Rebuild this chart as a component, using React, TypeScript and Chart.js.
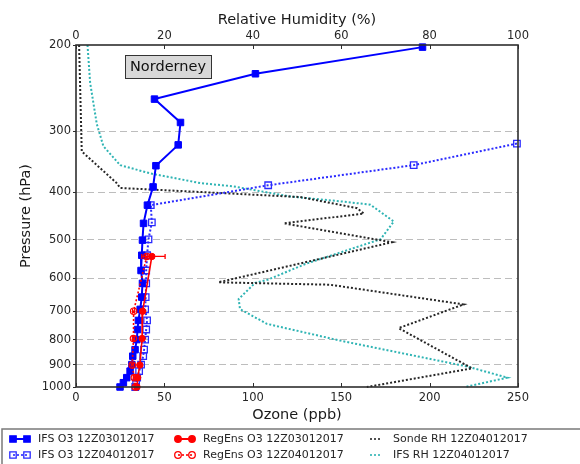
import React, { useEffect, useRef } from "react";
import { Chart, registerables } from "chart.js";

Chart.register(...registerables);

const FONT = "'DejaVu Sans', Verdana, sans-serif";

// Axis ticks
const pressureTicks = [200, 300, 400, 500, 600, 700, 800, 900, 1000];
const ozoneTickStep = 50;
const rhTickStep = 20;

// IFS O3 12Z03012017 (ppb vs hPa)
const ifs03Pressure = [202, 229, 258, 288, 320, 353, 390, 425, 463, 501, 538, 578, 614, 655, 694, 731, 763, 800, 839, 865, 900, 928, 957, 980, 1000];
const ifs03Ozone = [196, 101.5, 44.4, 59.1, 57.8, 45.2, 43.6, 40.4, 38.2, 37.6, 37.2, 36.8, 37.6, 37.2, 36.3, 35.3, 34.8, 34.4, 33.4, 32.1, 31.6, 30.6, 28.7, 26.8, 24.9];

// IFS O3 12Z04012017
const ifs04Pressure = [318, 352, 387, 425, 461, 499, 538, 578, 614, 655, 694, 731, 763, 800, 839, 865, 900, 928, 957, 980, 1000];
const ifs04Ozone = [249.4, 191, 108.7, 42.3, 42.9, 41, 40.2, 39.7, 39.7, 39.4, 39.1, 40.2, 39.7, 39.1, 38.5, 38, 36.8, 35.7, 34.6, 34, 33.5];

// RegEns O3 12Z03012017 with range
const reg03Pressure = [541, 700, 796, 902, 957, 1000];
const reg03Ozone = [42.9, 37.7, 37.4, 36.1, 34.9, 34.5];
const reg03Low = [37.2, 36.9, 36.6, 35.3, 34.1, 33.7];
const reg03High = [50.4, 38.5, 38.2, 36.9, 35.7, 35.3];

// RegEns O3 12Z04012017 with range
const reg04Pressure = [541, 700, 796, 902, 957, 1000];
const reg04Ozone = [40, 32.6, 32.5, 31.8, 33, 33.5];
const reg04Low = [39.4, 32, 31.9, 31.2, 32.4, 32.9];
const reg04High = [40.6, 33.2, 33.1, 32.4, 33.6, 34.1];

// Sonde RH 12Z04012017 (% vs hPa)
const sondePressure = [200, 330, 383, 392, 409, 431, 442, 463, 506, 611, 618, 678, 758, 916, 1000];
const sondeRH = [0.7, 1.3, 9.2, 10, 50.7, 63.6, 65.1, 47, 71.5, 32.2, 57.5, 87.7, 73, 89.6, 65.8];

// IFS RH 12Z04012017
const ifsRhPressure = [200, 239, 290, 322, 352, 366, 383, 389, 408, 418, 424, 459, 499, 560, 603, 613, 661, 693, 743, 804, 908, 957, 1000];
const ifsRH = [2.6, 3.2, 4.7, 6.2, 10, 16.8, 28.1, 35.6, 48.5, 60.5, 66.6, 71.9, 68.9, 52, 43.5, 40.5, 36.8, 37.1, 43.2, 59.8, 88.5, 97.6, 88];

const stationName = "Norderney";

const toPoints = (xs: number[], ps: number[]) => xs.map((v, i) => ({ x: v, y: ps[i] }));

const BLUE = "#0000ff";
const BLUE_DOT = "#2a2aff";
const RED = "#ff0000";
const SONDE = "#262626";
const TEAL = "#2fb4b4";
const TEXT = "#262626";
const AXIS = "#2e2e2e";

type LegendItem = { label: string; color: string; dash: number[]; marker: string; filled: boolean };

const legendItems: LegendItem[][] = [
  [
    { label: "IFS O3 12Z03012017", color: BLUE, dash: [], marker: "rect", filled: true },
    { label: "IFS O3 12Z04012017", color: BLUE_DOT, dash: [2, 2], marker: "rect", filled: false },
  ],
  [
    { label: "RegEns O3 12Z03012017", color: RED, dash: [], marker: "circle", filled: true },
    { label: "RegEns O3 12Z04012017", color: RED, dash: [2, 2], marker: "circle", filled: false },
  ],
  [
    { label: "Sonde RH 12Z04012017", color: SONDE, dash: [2, 2], marker: "none", filled: false },
    { label: "IFS RH 12Z04012017", color: TEAL, dash: [2, 2], marker: "none", filled: false },
  ],
];

function drawMarker(ctx: CanvasRenderingContext2D, kind: string, x: number, y: number, color: string, filled: boolean) {
  ctx.save();
  ctx.setLineDash([]);
  ctx.lineWidth = 1.3;
  ctx.strokeStyle = color;
  ctx.fillStyle = color;
  if (kind === "rect") {
    const s = 3.2;
    ctx.beginPath();
    ctx.rect(x - s, y - s, 2 * s, 2 * s);
    if (filled) ctx.fill();
    ctx.stroke();
  } else if (kind === "circle") {
    ctx.beginPath();
    ctx.arc(x, y, 3.3, 0, Math.PI * 2);
    if (filled) ctx.fill();
    ctx.stroke();
  }
  ctx.restore();
}

const decorPlugin = {
  id: "decor",
  afterDatasetsDraw(chart: any) {
    const ctx: CanvasRenderingContext2D = chart.ctx;
    const xs = chart.scales.x;
    const ys = chart.scales.y;
    ctx.save();
    const bars = [
      { p: reg03Pressure, lo: reg03Low, hi: reg03High },
      { p: reg04Pressure, lo: reg04Low, hi: reg04High },
    ];
    ctx.strokeStyle = RED;
    ctx.lineWidth = 1.3;
    bars.forEach((b) => {
      b.p.forEach((p, i) => {
        const y = ys.getPixelForValue(p);
        const x1 = xs.getPixelForValue(b.lo[i]);
        const x2 = xs.getPixelForValue(b.hi[i]);
        ctx.beginPath();
        ctx.moveTo(x1, y);
        ctx.lineTo(x2, y);
        ctx.moveTo(x1, y - 2.5);
        ctx.lineTo(x1, y + 2.5);
        ctx.moveTo(x2, y - 2.5);
        ctx.lineTo(x2, y + 2.5);
        ctx.stroke();
      });
    });
    ctx.restore();
  },
  afterDraw(chart: any) {
    const ctx: CanvasRenderingContext2D = chart.ctx;
    const { left, right, top, bottom } = chart.chartArea;
    ctx.save();
    ctx.setLineDash([]);
    // inward ticks for the two horizontal axes
    ctx.strokeStyle = AXIS;
    ctx.lineWidth = 1;
    const xs = chart.scales.x;
    xs.ticks.forEach((t: any) => {
      const px = Math.round(xs.getPixelForValue(t.value)) + 0.5;
      ctx.beginPath();
      ctx.moveTo(px, bottom);
      ctx.lineTo(px, bottom - 4);
      ctx.stroke();
    });
    const x2 = chart.scales.x2;
    x2.ticks.forEach((t: any) => {
      const px = Math.round(x2.getPixelForValue(t.value)) + 0.5;
      ctx.beginPath();
      ctx.moveTo(px, top);
      ctx.lineTo(px, top + 4);
      ctx.stroke();
    });
    // frame
    ctx.lineWidth = 1.6;
    ctx.strokeStyle = AXIS;
    ctx.strokeRect(left, top, right - left, bottom - top);

    // station label box
    ctx.font = `14.5px ${FONT}`;
    const tw = ctx.measureText(stationName).width;
    const cx = left + 92;
    const cy = top + 21.5;
    const bw = tw + 10;
    const bh = 23;
    ctx.fillStyle = "#d8d8d8";
    ctx.fillRect(cx - bw / 2, cy - bh / 2, bw, bh);
    ctx.lineWidth = 1;
    ctx.strokeStyle = "#333";
    ctx.strokeRect(Math.round(cx - bw / 2) + 0.5, Math.round(cy - bh / 2) + 0.5, Math.round(bw), bh);
    ctx.fillStyle = "#111";
    ctx.textAlign = "center";
    ctx.textBaseline = "middle";
    ctx.fillText(stationName, cx, cy + 1);

    // legend
    const legTop = 429;
    ctx.lineWidth = 1.5;
    ctx.strokeStyle = "#7a7a7a";
    ctx.strokeRect(2, legTop, 640, 60);
    const colX = [10, 175, 367];
    const lineLen = [20, 20, 16];
    const rowY = [439, 455];
    ctx.font = `11px ${FONT}`;
    ctx.textAlign = "left";
    ctx.textBaseline = "middle";
    legendItems.forEach((col, ci) => {
      col.forEach((it, ri) => {
        const x0 = colX[ci];
        const x1 = x0 + lineLen[ci];
        const y = rowY[ri];
        ctx.save();
        ctx.strokeStyle = it.color;
        ctx.lineWidth = it.dash.length ? 1.6 : 2;
        ctx.setLineDash(it.dash);
        ctx.beginPath();
        ctx.moveTo(x0 + 3, y);
        ctx.lineTo(x1 - 3, y);
        ctx.stroke();
        ctx.restore();
        if (it.marker !== "none") {
          drawMarker(ctx, it.marker, x0 + 3, y, it.color, it.filled);
          drawMarker(ctx, it.marker, x1 - 3, y, it.color, it.filled);
        }
        ctx.fillStyle = TEXT;
        ctx.fillText(it.label, x1 + 8 + (ci === 2 ? 2 : 0), y);
      });
    });
    ctx.restore();
  },
};

export default function App() {
  const canvasRef = useRef<HTMLCanvasElement | null>(null);

  useEffect(() => {
    const canvas = canvasRef.current;
    if (!canvas) return;

    const common = { showLine: true, clip: 6, parsing: true };

    const chart = new Chart(canvas, {
      type: "scatter",
      data: {
        datasets: [
          {
            ...common,
            label: "RegEns O3 12Z03012017",
            data: toPoints(reg03Ozone, reg03Pressure),
            xAxisID: "x",
            yAxisID: "y",
            borderColor: RED,
            backgroundColor: RED,
            borderWidth: 1.6,
            pointStyle: "circle",
            pointRadius: 3.2,
            pointBackgroundColor: RED,
            pointBorderColor: RED,
            pointBorderWidth: 1,
          },
          {
            ...common,
            label: "RegEns O3 12Z04012017",
            data: toPoints(reg04Ozone, reg04Pressure),
            xAxisID: "x",
            yAxisID: "y",
            borderColor: RED,
            backgroundColor: "rgba(0,0,0,0)",
            borderWidth: 1.6,
            borderDash: [2, 2],
            pointStyle: "circle",
            pointRadius: 3.2,
            pointBackgroundColor: "rgba(0,0,0,0)",
            pointBorderColor: RED,
            pointBorderWidth: 1.2,
          },
          {
            ...common,
            label: "IFS O3 12Z03012017",
            data: toPoints(ifs03Ozone, ifs03Pressure),
            xAxisID: "x",
            yAxisID: "y",
            borderColor: BLUE,
            backgroundColor: BLUE,
            borderWidth: 2,
            pointStyle: "rect",
            pointRadius: 4.6,
            pointBackgroundColor: BLUE,
            pointBorderColor: BLUE,
            pointBorderWidth: 1,
          },
          {
            ...common,
            label: "IFS O3 12Z04012017",
            data: toPoints(ifs04Ozone, ifs04Pressure),
            xAxisID: "x",
            yAxisID: "y",
            borderColor: BLUE_DOT,
            backgroundColor: "rgba(0,0,0,0)",
            borderWidth: 2,
            borderDash: [2, 2],
            pointStyle: "rect",
            pointRadius: 4.6,
            pointBackgroundColor: "rgba(0,0,0,0)",
            pointBorderColor: BLUE_DOT,
            pointBorderWidth: 1.3,
          },
          {
            ...common,
            label: "Sonde RH 12Z04012017",
            data: toPoints(sondeRH, sondePressure),
            xAxisID: "x2",
            yAxisID: "y",
            borderColor: SONDE,
            backgroundColor: SONDE,
            borderWidth: 2,
            borderDash: [2, 2],
            pointRadius: 0,
          },
          {
            ...common,
            label: "IFS RH 12Z04012017",
            data: toPoints(ifsRH, ifsRhPressure),
            xAxisID: "x2",
            yAxisID: "y",
            borderColor: TEAL,
            backgroundColor: TEAL,
            borderWidth: 2,
            borderDash: [2, 2],
            pointRadius: 0,
          },
        ] as any,
      },
      options: {
        responsive: false,
        animation: false,
        events: [],
        layout: { padding: { left: 0, right: 62, top: 0, bottom: 0 } },
        plugins: {
          legend: { display: false },
          tooltip: { enabled: false },
        },
        scales: {
          x: {
            type: "linear",
            position: "bottom",
            min: 0,
            max: 250,
            ticks: {
              stepSize: ozoneTickStep,
              color: TEXT,
              font: { family: FONT, size: 11.5 },
              padding: 4,
              maxRotation: 0,
            },
            grid: { display: false, drawTicks: false },
            border: { display: false },
            title: {
              display: true,
              text: "Ozone (ppb)",
              color: "#1a1a1a",
              font: { family: FONT, size: 14.5 },
              padding: { top: 0, bottom: 40 },
            },
            afterFit: (s: any) => {
              s.height = 77;
            },
          },
          x2: {
            type: "linear",
            position: "top",
            min: 0,
            max: 100,
            ticks: {
              stepSize: rhTickStep,
              color: TEXT,
              font: { family: FONT, size: 11.5 },
              padding: 2,
              maxRotation: 0,
            },
            grid: { display: false, drawTicks: false },
            border: { display: false },
            title: {
              display: true,
              text: "Relative Humidity (%)",
              color: "#1a1a1a",
              font: { family: FONT, size: 14.5 },
              padding: { top: 12, bottom: 0 },
            },
            afterFit: (s: any) => {
              s.height = 45;
            },
          },
          y: {
            type: "logarithmic",
            position: "left",
            min: 200,
            max: 1000,
            reverse: true,
            afterBuildTicks: (s: any) => {
              s.ticks = pressureTicks.map((v) => ({ value: v }));
            },
            ticks: {
              autoSkip: false,
              color: TEXT,
              font: { family: FONT, size: 11.5 },
              padding: 2,
              callback: (v: any) => String(v),
            },
            grid: {
              display: true,
              drawTicks: true,
              tickLength: 3,
              tickColor: AXIS,
              lineWidth: 1,
              color: (c: any) =>
                c.tick && (c.tick.value === 200 || c.tick.value === 1000) ? "rgba(0,0,0,0)" : "#bdbdbd",
            },
            border: { display: false, dash: [7, 4] },
            title: {
              display: true,
              text: "Pressure (hPa)",
              color: "#1a1a1a",
              font: { family: FONT, size: 14.5 },
              padding: { top: 18, bottom: 0 },
            },
            afterFit: (s: any) => {
              s.width = 76;
            },
          },
        },
      } as any,
      plugins: [decorPlugin as any],
    });

    return () => {
      chart.destroy();
    };
  }, []);

  return (
    <div style={{ position: "absolute", left: 0, top: 0, width: 580, height: 464, background: "#ffffff" }}>
      <canvas ref={canvasRef} width={580} height={464} style={{ display: "block" }} />
    </div>
  );
}
